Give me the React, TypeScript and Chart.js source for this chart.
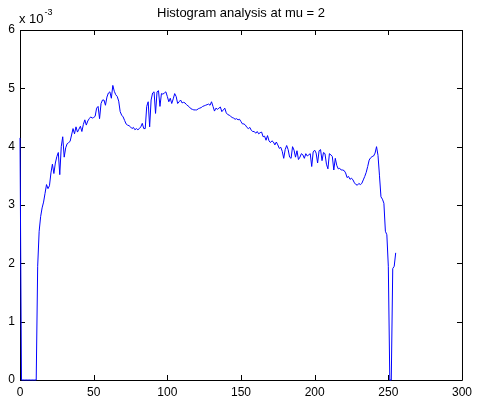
import React, { useEffect, useRef } from "react";
import { Chart, registerables } from "chart.js";

Chart.register(...registerables);

// Histogram values (units of 10^-3), one per grey level 0..255
const histValues: number[] = [
  4.15, 0, 0, 0, 0, 0, 0, 0, 0, 0,
  0, 0, 1.95, 2.55, 2.8, 2.95, 3.05, 3.2, 3.35, 3.28,
  3.33, 3.55, 3.7, 3.54, 3.72, 3.83, 3.9, 3.52, 4.0, 4.17,
  3.82, 3.98, 4.05, 4.07, 4.09, 4.2, 4.31, 4.22, 4.34, 4.25,
  4.3, 4.35, 4.26, 4.38, 4.46, 4.37, 4.44, 4.48, 4.51, 4.49,
  4.5, 4.52, 4.66, 4.69, 4.48, 4.74, 4.8, 4.8, 4.71, 4.85,
  4.92, 4.94, 4.83, 5.05, 4.95, 4.89, 4.86, 4.78, 4.6, 4.54,
  4.51, 4.45, 4.39, 4.37, 4.36, 4.34, 4.31, 4.33, 4.29, 4.31,
  4.29, 4.31, 4.34, 4.4, 4.31, 4.31, 4.69, 4.77, 4.34, 4.8,
  4.92, 4.94, 4.57, 4.94, 4.96, 4.69, 4.91, 4.9, 4.92, 4.94,
  4.86, 4.77, 4.83, 4.74, 4.82, 4.91, 4.86, 4.74, 4.77, 4.8,
  4.75, 4.76, 4.75, 4.72, 4.7, 4.68, 4.65, 4.64, 4.63, 4.63,
  4.63, 4.65, 4.66, 4.67, 4.69, 4.7, 4.71, 4.72, 4.73, 4.71,
  4.77, 4.69, 4.61, 4.66, 4.64, 4.66, 4.68, 4.6, 4.63, 4.66,
  4.58, 4.55, 4.54, 4.52, 4.5, 4.49, 4.47, 4.48, 4.46, 4.47,
  4.43, 4.39, 4.39, 4.37, 4.33, 4.31, 4.33, 4.28, 4.26, 4.26,
  4.23, 4.26, 4.22, 4.24, 4.25, 4.17, 4.18, 4.11, 4.19, 4.1,
  4.07, 4.1, 4.08, 4.03, 4.08, 4.03, 3.97, 3.99, 3.92, 3.8,
  3.95, 4.02, 3.95, 3.82, 3.8, 4.0, 3.94, 3.82, 3.93, 3.78,
  3.82, 3.88, 3.86, 3.8, 3.88, 3.84, 3.86, 3.88, 3.66, 3.91,
  3.94, 3.89, 3.72, 3.93, 3.95, 3.76, 3.9, 3.88, 3.7, 3.62,
  3.88, 3.86, 3.83, 3.6, 3.8, 3.68, 3.62, 3.63, 3.6, 3.6,
  3.59, 3.55, 3.47, 3.49, 3.44, 3.46, 3.43, 3.38, 3.35, 3.34,
  3.37, 3.35, 3.37, 3.43, 3.49, 3.56, 3.66, 3.77, 3.81, 3.83,
  3.84, 3.89, 4.0, 3.85, 3.5, 3.14, 3.1, 3.03, 2.55, 2.49,
  1.95, 0, 0, 1.91, 1.95, 2.18,
];

const xTickValues: number[] = [0, 50, 100, 150, 200, 250, 300];
const yTickValues: number[] = [0, 1, 2, 3, 4, 5, 6];
const titleText = "Histogram analysis at mu = 2";
const exponentBase = "x 10";
const exponentPower = "-3";

const FONT = "Arial, 'Liberation Sans', Helvetica, sans-serif";

const boxPlugin = {
  id: "matlabBox",
  beforeDatasetsDraw(chart: any) {
    const { ctx, chartArea } = chart;
    const { left, right, top, bottom } = chartArea;
    const xs = chart.scales.x;
    const ys = chart.scales.y;
    const tl = 5;
    ctx.save();
    ctx.strokeStyle = "#000";
    ctx.lineWidth = 1;
    ctx.beginPath();
    ctx.rect(left + 0.5, top + 0.5, right - left, bottom - top);
    ctx.stroke();
    ctx.beginPath();
    xTickValues.forEach((v) => {
      const px = Math.round(xs.getPixelForValue(v)) + 0.5;
      ctx.moveTo(px, bottom);
      ctx.lineTo(px, bottom - tl);
      ctx.moveTo(px, top);
      ctx.lineTo(px, top + tl);
    });
    yTickValues.forEach((v) => {
      const py = Math.round(ys.getPixelForValue(v)) + 0.5;
      ctx.moveTo(left, py);
      ctx.lineTo(left + tl, py);
      ctx.moveTo(right, py);
      ctx.lineTo(right - tl, py);
    });
    ctx.stroke();

    ctx.fillStyle = "#000";
    ctx.textAlign = "center";
    ctx.textBaseline = "alphabetic";
    ctx.font = `13px ${FONT}`;
    ctx.fillText(titleText, (left + right) / 2, 17);

    ctx.textAlign = "left";
    ctx.font = `13px ${FONT}`;
    ctx.fillText(exponentBase, left - 1, 23);
    const w = ctx.measureText(exponentBase).width;
    ctx.font = `9px ${FONT}`;
    ctx.fillText(exponentPower, left - 1 + w + 1, 15);
    ctx.restore();
  },
};

export default function App() {
  const canvasRef = useRef<HTMLCanvasElement | null>(null);

  useEffect(() => {
    document.body.style.margin = "0";
    const canvas = canvasRef.current;
    if (!canvas) return;
    const points = histValues.map((v, i) => ({ x: i, y: v }));
    const chart = new Chart(canvas, {
      type: "line",
      data: {
        datasets: [
          {
            data: points,
            borderColor: "#0000ff",
            borderWidth: 1,
            pointRadius: 0,
            tension: 0,
            fill: false,
            clip: 2,
          },
        ],
      },
      options: {
        animation: false,
        responsive: false,
        maintainAspectRatio: false,
        layout: {
          autoPadding: false,
          padding: { top: 30, right: 11, left: 0, bottom: 0 },
        } as any,
        plugins: {
          legend: { display: false },
          tooltip: { enabled: false },
          title: { display: false },
        },
        scales: {
          x: {
            type: "linear",
            min: 0,
            max: 300,
            afterBuildTicks: (scale: any) => {
              scale.ticks = xTickValues.map((v) => ({ value: v }));
            },
            afterFit: (scale: any) => {
              scale.height = 26;
            },
            grid: { display: false, drawTicks: false },
            border: { display: false },
            ticks: {
              color: "#000",
              padding: 5,
              maxRotation: 0,
              autoSkip: false,
              font: { size: 12, family: FONT },
            },
          },
          y: {
            type: "linear",
            min: 0,
            max: 6,
            afterBuildTicks: (scale: any) => {
              scale.ticks = yTickValues.map((v) => ({ value: v }));
            },
            afterFit: (scale: any) => {
              scale.width = 20;
            },
            grid: { display: false, drawTicks: false },
            border: { display: false },
            ticks: {
              color: "#000",
              padding: 5,
              autoSkip: false,
              font: { size: 12, family: FONT },
            },
          },
        },
      },
      plugins: [boxPlugin],
    });
    return () => chart.destroy();
  }, []);

  return (
    <div style={{ width: 477, height: 406, background: "#fff" }}>
      <canvas ref={canvasRef} width={477} height={406} />
    </div>
  );
}
